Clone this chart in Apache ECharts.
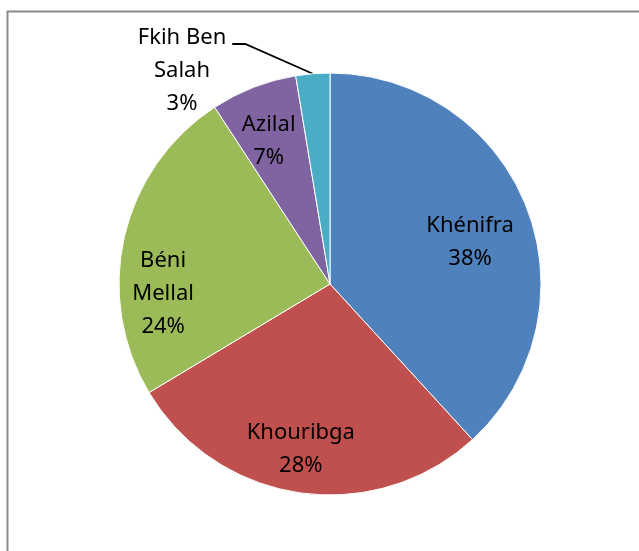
<!DOCTYPE html>
<html>
<head>
<meta charset="utf-8">
<style>
  html, body { margin: 0; padding: 0; background: #fff; }
  #main { width: 639px; height: 551px; }
</style>
<script src="https://cdn.jsdelivr.net/npm/echarts@6/dist/echarts.min.js"></script>
</head>
<body>
<div id="main"></div>
<script>
// regions, clockwise from 12 o'clock
var regions = ['Khénifra', 'Khouribga', 'Béni Mellal', 'Azilal', 'Fkih Ben Salah'];
var labelNames = ['Khénifra', 'Khouribga', 'Béni\nMellal', 'Azilal', 'Fkih Ben\nSalah'];
var shares = [38.2, 28.2, 24.4, 6.6, 2.6];
var colors = ['#4F81BD', '#C0504D', '#9BBB59', '#8064A2', '#4BACC6'];

var myChart = echarts.init(document.getElementById('main'));

var txt = {
    fontFamily: 'Noto Sans',
    fontSize: 22,
    lineHeight: 33,
    color: '#000'
};

function labelText(p) {
    return labelNames[p.dataIndex] + '\n' + p.percent + '%';
}

var option = {
    animation: false,
    graphic: [{
        type: 'rect',
        shape: { x: 7.5, y: 11.5, width: 700, height: 600 },
        style: { fill: 'none', stroke: '#8a8a8a', lineWidth: 2 },
        silent: true
    }],
    series: [{
        // the slices, only the small one gets an outside label
        type: 'pie',
        center: [330, 284],
        radius: [0, 211],
        startAngle: 90,
        clockwise: true,
        percentPrecision: 0,
        silent: true,
        itemStyle: { borderColor: '#fff', borderWidth: 1 },
        label: { show: false },
        labelLine: { show: false },
        data: regions.map(function (name, i) {
            var d = { name: name, value: shares[i], itemStyle: { color: colors[i] } };
            if (i === 4) {
                d.label = Object.assign({
                    show: true,
                    position: 'outside',
                    align: 'center',
                    formatter: labelText
                }, txt);
                d.labelLine = { show: true, length: 10, length2: 10, lineStyle: { color: '#000', width: 1.8 } };
            }
            return d;
        }),
        labelLayout: function (p) {
            if (p.dataIndex !== 4) return;
            var x = 182, y = 71;
            var w = p.labelRect.width, h = p.labelRect.height;
            var right = x + w / 2;
            var lineY = y - h / 2 + 33 / 2 + 6;
            var res = { x: x, y: y, align: 'center', verticalAlign: 'middle' };
            if (p.labelLinePoints && p.labelLinePoints[0]) {
                res.labelLinePoints = [
                    p.labelLinePoints[0],
                    [right + 19, lineY],
                    [right + 6, lineY]
                ];
            }
            return res;
        }
    }, {
        // transparent ring used only to place the inside labels further out
        type: 'pie',
        center: [330, 284],
        radius: [0, 316],
        startAngle: 90,
        clockwise: true,
        percentPrecision: 0,
        silent: true,
        z: 3,
        itemStyle: { color: 'rgba(0,0,0,0)' },
        emphasis: { disabled: true },
        label: Object.assign({
            show: true,
            position: 'inside',
            align: 'center',
            formatter: labelText
        }, txt),
        labelLine: { show: false },
        data: regions.map(function (name, i) {
            return { name: name, value: shares[i], label: { show: i !== 4 } };
        }),
        labelLayout: function (p) {
            var off = [[-10, 17], [-6, 6], [-10, 46], [-3, 7], [0, 0]][p.dataIndex];
            return { dx: off[0], dy: off[1] };
        }
    }]
};

myChart.setOption(option);
</script>
</body>
</html>
